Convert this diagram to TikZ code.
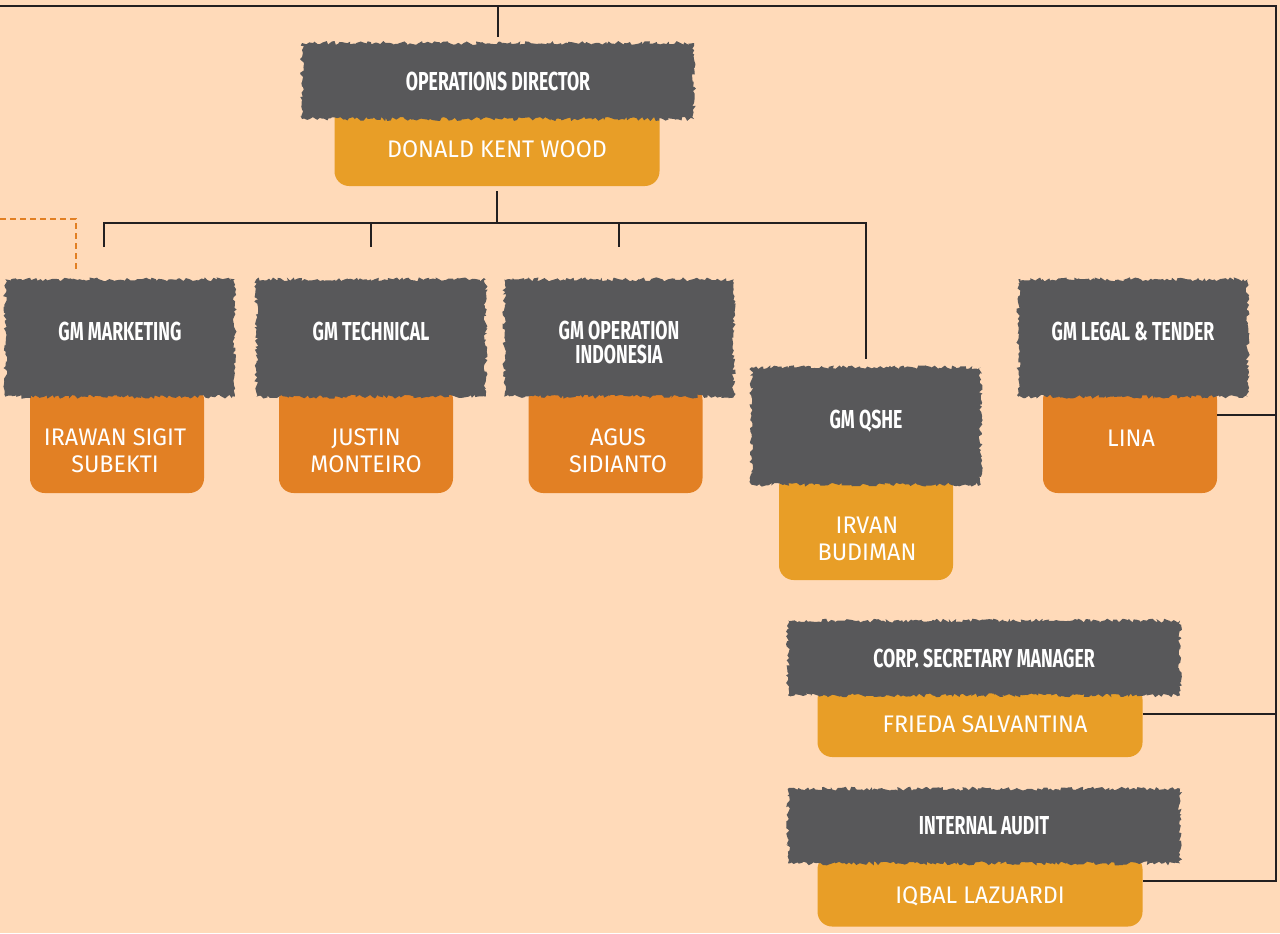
\documentclass[tikz,border=0pt]{standalone}
\usepackage{fontspec}
\usepackage{tikz}
\usetikzlibrary{decorations.pathmorphing, calc, positioning}
\newfontfamily\titlefont[FakeStretch=0.68]{Fira Sans}
\newfontfamily\namefont[FakeStretch=0.97]{Fira Sans}
\definecolor{peach}{RGB}{255,218,185}
\definecolor{brushgray}{RGB}{88,88,90}
\definecolor{boxgold}{RGB}{232,158,39}
\definecolor{boxorange}{RGB}{226,128,36}
\definecolor{linedark}{RGB}{35,31,32}

\begin{document}
\begin{tikzpicture}[x=0.75pt,y=0.75pt,yscale=-1,xscale=1,
	link/.style={draw=linedark, line width=2.2pt},
	dashlink/.style={draw=boxorange, line width=1.8pt, dash pattern=on 4.5pt off 3pt},
	brush/.style={fill=brushgray, decorate, decoration={random steps, segment length=1.8pt, amplitude=1.5pt}, text=white, align=center, inner sep=0pt, font={\titlefont\bfseries\fontsize{19.5}{18}\selectfont}},
	gmbrush/.style={brush, minimum width=172pt, minimum height=88pt},
	widebrush/.style={brush, minimum width=294pt, minimum height=56pt},
	lift/.style={text depth=10.5pt},
	namebox/.style={rounded corners=11pt, inner sep=0pt},
	gmbox/.style={namebox, fill=boxorange, minimum width=130.5pt, minimum height=81pt},
	widebox/.style={namebox, fill=boxgold, minimum width=243.75pt, minimum height=54pt},
	nametext/.style={text=white, align=center, inner sep=0pt, font={\namefont\fontsize{18}{20.25}\selectfont}}
	]
	\pgfmathsetseed{7}
	%background, sets the size of the page
	\fill [peach] (0,0) rectangle (1280,933);
	\useasboundingbox (0,0) rectangle (1280,933);

	% Operations Director
	\node [widebox, minimum height=60.75pt] (od) at (497,145.5) {};
	\node [widebrush, minimum height=57pt] (od-title) at (498,81) {OPERATIONS DIRECTOR};
	\node [nametext] (od-name) at (497,149) {DONALD KENT WOOD};

	% GM Marketing
	\node [gmbox] (mkt) at (117,439) {};
	\node [gmbrush, lift] (mkt-title) at (120,338) {GM MARKETING};
	\node [nametext] (mkt-name) at (115,451) {IRAWAN SIGIT\\SUBEKTI};

	% GM Technical
	\node [gmbox] (tec) at (366,439) {};
	\node [gmbrush, lift] (tec-title) at (371,338) {GM TECHNICAL};
	\node [nametext] (tec-name) at (366,451) {JUSTIN\\MONTEIRO};

	% GM Operation Indonesia
	\node [gmbox] (ops) at (615.5,439) {};
	\node [gmbrush, text height=38pt] (ops-title) at (619,338) {GM OPERATION\\INDONESIA};
	\node [nametext] (ops-name) at (618,451) {AGUS\\SIDIANTO};

	% GM QSHE
	\node [gmbox, fill=boxgold] (qshe) at (866,526) {};
	\node [gmbrush, lift] (qshe-title) at (866,426) {GM QSHE};
	\node [nametext] (qshe-name) at (867,539) {IRVAN\\BUDIMAN};

	% GM Legal & Tender
	\node [gmbox] (leg) at (1130,439) {};
	\node [gmbrush, lift] (leg-title) at (1133,338) {GM LEGAL \& TENDER};
	\node [nametext] (leg-name) at (1131,438) {LINA};

	% Corp. Secretary Manager
	\node [widebox] (csm) at (980,721) {};
	\node [widebrush] (csm-title) at (984,658) {CORP. SECRETARY MANAGER};
	\node [nametext] (csm-name) at (985,724) {FRIEDA SALVANTINA};

	% Internal Audit
	\node [widebox] (ia) at (980,890.5) {};
	\node [widebrush] (ia-title) at (984,826) {INTERNAL AUDIT};
	\node [nametext] (ia-name) at (980,896) {IQBAL LAZUARDI};

	% Lines
	\coordinate (top-l) at (0,6);
	\coordinate (top-r) at (1276,6);
	\coordinate (bus) at (497,223);
	\coordinate (bus-l) at (104,223);
	\coordinate (dash-l) at (0,219);
	\coordinate (leg-link) at ($(leg.east)+(0,-24)$);
	\coordinate (csm-link) at ($(csm.east)+(0,-7)$);

	\draw [link] (top-l) -- (top-r) |- ($(ia.east)+(0,-9.5)$);
	\draw [link] (od-title.north |- top-l) -- ($(od-title.north)+(0,-6)$);
	\draw [link] ($(od.south)+(0,5)$) -- (bus);
	\draw [link] ($(bus-l)+(0,24)$) -- (bus-l) -- (bus-l -| qshe-title) -- ($(qshe-title.north)+(0,-8)$);
	\draw [link] (bus -| tec-title) -- ++(0,24);
	\draw [link] (bus -| ops-title) -- ++(0,24);
	\draw [link] (leg-link) -- (leg-link -| top-r);
	\draw [link] (csm-link) -- (csm-link -| top-r);
	\draw [dashlink] (dash-l) -| ($(mkt-title.north)+(-44,-7)$);

\end{tikzpicture}
\end{document}
